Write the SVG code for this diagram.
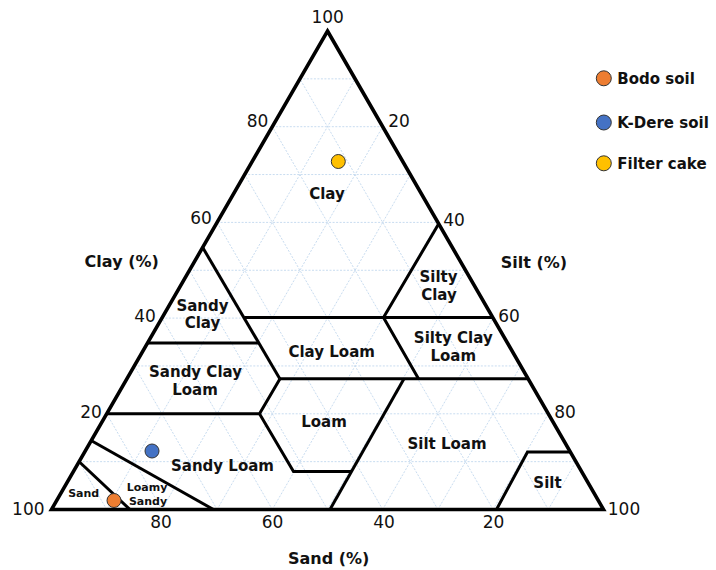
<svg xmlns="http://www.w3.org/2000/svg" width="716" height="570" viewBox="0 0 716 570">
<style>
.grid{stroke:#c8dcf0;stroke-width:1;stroke-dasharray:2 1.5;fill:none}
.bnd{stroke:#000;stroke-width:3;fill:none;stroke-linecap:butt;stroke-linejoin:miter}
.frame{stroke:#000;stroke-width:3.6;fill:none;stroke-linejoin:miter}
.num{font-family:"DejaVu Sans","Liberation Sans",sans-serif;font-size:17px;fill:#111;text-anchor:middle}
.ttl{font-family:"DejaVu Sans","Liberation Sans",sans-serif;font-size:16px;font-weight:bold;fill:#111;text-anchor:middle}
.lab{font-family:"DejaVu Sans","Liberation Sans",sans-serif;font-size:15px;font-weight:bold;fill:#111;text-anchor:middle}
.sm{font-family:"DejaVu Sans","Liberation Sans",sans-serif;font-size:11px;font-weight:bold;fill:#111;text-anchor:middle}
.leg{font-family:"DejaVu Sans","Liberation Sans",sans-serif;font-size:15px;font-weight:bold;fill:#111}
.pt{stroke:#333;stroke-width:1}
</style>
<rect width="716" height="570" fill="#fff"/>
<g id="grid" class="grid">
<path d="M79.1 461.65H575.9M106.7 413.8H548.3M134.3 365.95H520.7M161.9 318.1H493.1M189.5 270.25H465.5M217.1 222.4H437.9M244.7 174.55H410.3M272.3 126.7H382.7M299.9 78.85H355.1"/>
<path d="M106.7 509.5L355.1 78.85M161.9 509.5L382.7 126.7M217.1 509.5L410.3 174.55M272.3 509.5L437.9 222.4M327.5 509.5L465.5 270.25M382.7 509.5L493.1 318.1M437.9 509.5L520.7 365.95M493.1 509.5L548.3 413.8M548.3 509.5L575.9 461.65"/>
<path d="M106.7 509.5L79.1 461.65M161.9 509.5L106.7 413.8M217.1 509.5L134.3 365.95M272.3 509.5L161.9 318.1M327.5 509.5L189.5 270.25M382.7 509.5L217.1 222.4M437.9 509.5L244.7 174.55M493.1 509.5L272.3 126.7M548.3 509.5L299.9 78.85"/>
</g>
<g id="connectors" class="bnd">
<path d="M79.5 462L130 509.5"/>
<path d="M91.5 440.7L213.5 509.5"/>
<path d="M106.7 413.8H259.5L280 378.7"/>
<path d="M259.5 413.8L293.5 471.5H351.5"/>
<path d="M404 378.7L330 509.5"/>
<path d="M280 378.7H527.5"/>
<path d="M202.7 247.5L279.8 378.7"/>
<path d="M147.5 343H258.3"/>
<path d="M244.5 317.5H492.8"/>
<path d="M438.6 224L383.5 317.5L418.5 378.7"/>
<path d="M570 452H527.5L496.5 509.5"/>
</g>
<g id="triangle">
<path class="frame" d="M327.5 31L603.5 509.5H51.5Z"/>
</g>
<g id="axis-numbers">
<text class="num" x="327.7" y="22.7">100</text>
<text class="num" x="257.5" y="127">80</text>
<text class="num" x="201" y="224.3">60</text>
<text class="num" x="145" y="321.7">40</text>
<text class="num" x="91" y="418.3">20</text>
<text class="num" x="28.3" y="515">100</text>
<text class="num" x="399" y="127">20</text>
<text class="num" x="454" y="226">40</text>
<text class="num" x="509" y="322.3">60</text>
<text class="num" x="565" y="417.7">80</text>
<text class="num" x="624" y="514.5">100</text>
<text class="num" x="161" y="528.3">80</text>
<text class="num" x="272.5" y="528.3">60</text>
<text class="num" x="384" y="528">40</text>
<text class="num" x="493.5" y="528">20</text>
</g>
<g id="axis-titles">
<text class="ttl" x="121.7" y="266.5">Clay (%)</text>
<text class="ttl" x="534" y="268">Silt (%)</text>
<text class="ttl" x="328.7" y="564">Sand (%)</text>
</g>
<g id="clay"><text class="lab" x="327" y="199">Clay</text></g>
<g id="silty-clay"><text class="lab" x="438.5" y="282">Silty</text><text class="lab" x="439" y="300">Clay</text></g>
<g id="sandy-clay"><text class="lab" x="202.5" y="310.7">Sandy</text><text class="lab" x="202.5" y="328.3">Clay</text></g>
<g id="sandy-clay-loam"><text class="lab" x="195.5" y="376.7">Sandy Clay</text><text class="lab" x="195" y="395">Loam</text></g>
<g id="clay-loam"><text class="lab" x="331.7" y="356.7">Clay Loam</text></g>
<g id="silty-clay-loam"><text class="lab" x="453.3" y="342.7">Silty Clay</text><text class="lab" x="453.3" y="360.7">Loam</text></g>
<g id="loam"><text class="lab" x="324" y="426.7">Loam</text></g>
<g id="silt-loam"><text class="lab" x="447" y="448.7">Silt Loam</text></g>
<g id="silt"><text class="lab" x="547.5" y="487.7">Silt</text></g>
<g id="sandy-loam"><text class="lab" x="222.5" y="471">Sandy Loam</text></g>
<g id="sand"><text class="sm" x="83.7" y="496.7">Sand</text></g>
<g id="loamy-sandy"><text class="sm" x="147" y="490.7">Loamy</text><text class="sm" x="148" y="505">Sandy</text></g>
<g id="points">
<circle class="pt" cx="338.3" cy="161.5" r="7" fill="#FFC000"/>
<circle class="pt" cx="152" cy="451" r="7" fill="#4472C4"/>
<circle class="pt" cx="114" cy="500.5" r="7" fill="#ED7D31"/>
</g>
<g id="legend">
<circle class="pt" cx="603.8" cy="78.3" r="7.5" fill="#ED7D31"/>
<text class="leg" x="617.3" y="83.5">Bodo soil</text>
<circle class="pt" cx="603.8" cy="122.5" r="7.5" fill="#4472C4"/>
<text class="leg" x="617.3" y="128">K-Dere soil</text>
<circle class="pt" cx="603.8" cy="163.3" r="7.5" fill="#FFC000"/>
<text class="leg" x="617.3" y="169">Filter cake</text>
</g>
</svg>
